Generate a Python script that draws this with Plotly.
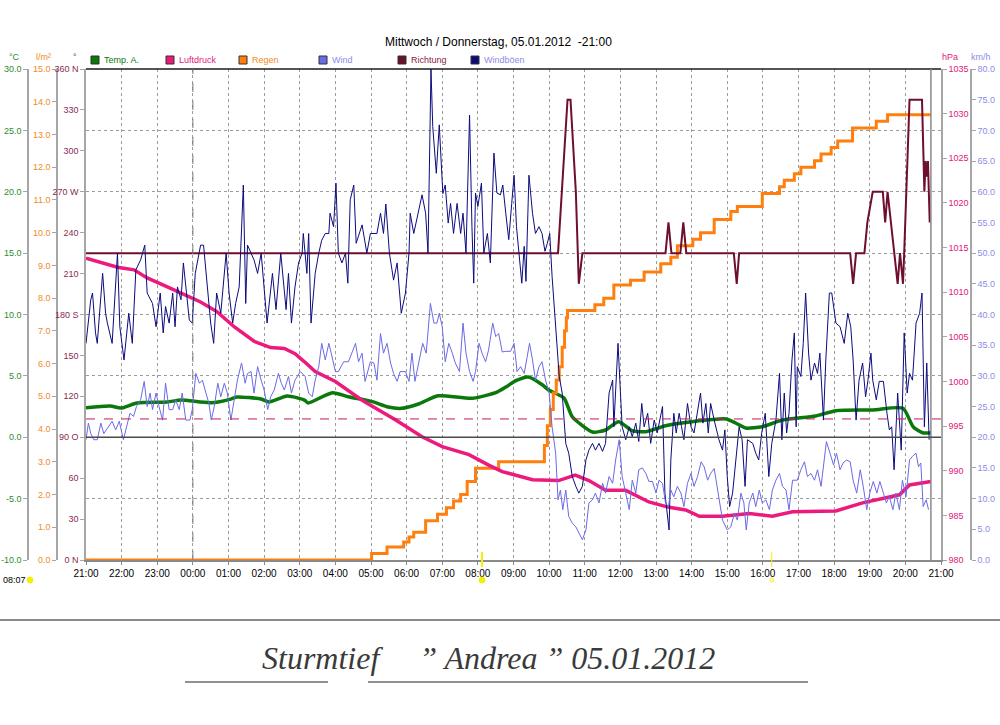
import plotly.graph_objects as go
import pandas as pd

# ---------------- data (time = minutes after 04.01.2012 21:00) ----------------
BASE = pd.Timestamp("2012-01-04 21:00")
END = BASE + pd.Timedelta(hours=24)

hour_labels = ["21:00", "22:00", "23:00", "00:00", "01:00", "02:00", "03:00", "04:00",
               "05:00", "06:00", "07:00", "08:00", "09:00", "10:00", "11:00", "12:00",
               "13:00", "14:00", "15:00", "16:00", "17:00", "18:00", "19:00", "20:00", "21:00"]

temp_min = [0, 41, 59, 86, 137, 160, 210, 244, 254, 295, 308, 339, 368, 374, 415, 442, 482, 509,
            532, 560, 593, 650, 690, 707, 724, 745, 769, 779, 805, 819, 853, 875, 897, 920, 943,
            976, 1021, 1078, 1094, 1111, 1139, 1173, 1229, 1263, 1325, 1376, 1393, 1409, 1423]
temp_val = [2.41, 2.54, 2.38, 2.79, 2.87, 3.03, 2.81, 3.11, 3.28, 3.11, 2.87, 3.36, 3.03, 2.79,
            3.63, 3.30, 2.90, 2.46, 2.36, 2.71, 3.38, 3.17, 3.63, 4.09, 4.61, 4.91, 4.26, 3.85,
            3.20, 1.67, 0.43, 0.59, 1.27, 0.53, 0.45, 0.94, 1.27, 1.49, 1.16, 0.75, 0.86, 1.40,
            1.73, 2.16, 2.22, 2.36, 0.86, 0.37, 0.37]

press_min = [0, 31, 53, 81, 103, 137, 165, 193, 221, 250, 283, 311, 334, 352, 368, 386, 420, 465,
             521, 566, 600, 645, 679, 701, 724, 752, 796, 824, 847, 875, 909, 948, 982, 1010, 1033,
             1072, 1117, 1156, 1190, 1263, 1308, 1342, 1370, 1387, 1403, 1423]
press_val = [1013.8, 1013.2, 1012.8, 1012.5, 1011.6, 1010.6, 1009.7, 1008.9, 1007.8, 1006.1,
             1004.5, 1003.8, 1003.7, 1003.1, 1002.2, 1001.1, 1000.0, 997.9, 995.7, 993.8, 992.7,
             991.8, 990.6, 989.9, 989.5, 989.0, 988.9, 989.5, 988.9, 987.8, 987.8, 986.5, 985.9,
             985.6, 984.9, 984.9, 985.2, 984.9, 985.4, 985.5, 986.4, 986.9, 987.3, 988.4, 988.6,
             988.8]
press_ref = 995.8

rain_min = [0, 481, 507, 535, 544, 552, 572, 592, 607, 619, 631, 642, 656, 695,
            767, 772, 777, 782, 787, 792, 797, 802, 806, 809, 811,
            857, 872, 889, 917, 940, 968, 985, 996, 1022, 1035, 1058, 1086, 1097, 1139, 1168,
            1176, 1193, 1204, 1227, 1238, 1255, 1266, 1291, 1331, 1350, 1423]
rain_val = [0.0, 0.2, 0.4, 0.55, 0.7, 0.85, 1.2, 1.4, 1.6, 1.8, 2.0, 2.4, 2.8, 3.0,
            3.0, 3.5, 4.1, 4.6, 5.1, 5.5, 5.9, 6.5, 7.0, 7.4, 7.62,
            7.8, 8.0, 8.4, 8.55, 8.8, 9.05, 9.25, 9.6, 9.8, 10.0, 10.4, 10.65, 10.8, 11.2, 11.4,
            11.6, 11.8, 12.0, 12.2, 12.4, 12.6, 12.8, 13.2, 13.4, 13.6, 13.6]

dir_min = [0, 795, 811, 816, 825, 830, 836, 976, 981, 986, 1001, 1006, 1011, 1091, 1096, 1100,
           1287, 1292, 1297, 1311, 1316, 1325, 1342, 1346, 1350, 1356, 1367, 1371, 1376, 1378,
           1387, 1408, 1412, 1414, 1416, 1418, 1421]
dir_val = [225, 225, 337.5, 337.5, 270, 202.5, 225, 225, 247.5, 225, 225, 247.5, 225, 225, 202.5,
           225, 225, 202.5, 225, 225, 247.5, 270, 270, 247.5, 270, 247.5, 202.5, 225, 202.5, 225,
           337.5, 337.5, 270, 292.5, 281, 292.5, 247.5]

gust_min = [0, 8, 11, 16, 19, 28, 33, 36, 44, 53, 57, 64, 72, 78, 84, 92, 99, 103, 112, 118, 125,
            130, 134, 140, 146, 150, 154, 160, 164, 174, 179, 184, 193, 198, 210, 215, 220, 227,
            236, 241, 247, 252, 258, 265, 269, 272, 283, 289, 295, 305, 314, 320, 328, 337, 341,
            346, 352, 358, 364, 366, 372, 375, 379, 386, 392, 397, 403, 409, 411, 417, 421, 425,
            431, 437, 441, 445, 451, 455, 465, 473, 479, 490, 496, 501, 505, 511, 518, 524, 531,
            538, 544, 546, 552, 560, 566, 572, 576, 581, 584, 590, 595, 601, 605, 610, 614, 619,
            625, 631, 635, 640, 646, 650, 653, 656, 660, 666, 670, 676, 681, 687, 692, 698, 702,
            707, 712, 717, 721, 725, 730, 734, 738, 741, 746, 752, 757, 763, 768, 773, 777, 781,
            785, 791, 797, 802, 808, 813, 819, 825, 830, 836, 842, 847, 853, 858, 864, 870, 875,
            881, 887, 889, 892, 896, 901, 903, 909, 915, 920, 926, 931, 936, 940, 946, 951, 957,
            962, 971, 975, 979, 982, 985, 990, 994, 999, 1003, 1007, 1013, 1019, 1024, 1030, 1035,
            1039, 1044, 1048, 1052, 1058, 1061, 1066, 1072, 1076, 1080, 1084, 1089, 1094, 1100,
            1105, 1110, 1114, 1123, 1128, 1133, 1138, 1144, 1150, 1155, 1162, 1168, 1172, 1176,
            1180, 1184, 1189, 1193, 1196, 1198, 1204, 1208, 1212, 1217, 1221, 1227, 1232, 1236,
            1242, 1246, 1252, 1256, 1263, 1270, 1277, 1283, 1288, 1292, 1297, 1302, 1308, 1313,
            1317, 1322, 1325, 1331, 1336, 1343, 1349, 1353, 1357, 1361, 1367, 1373, 1378, 1383,
            1387, 1392, 1398, 1404, 1408, 1412, 1416, 1420]
gust_val = [35.3, 42.4, 43.5, 37.0, 35.3, 46.7, 40.2, 38.6, 35.3, 50.0, 38.0, 32.6, 40.2, 35.3,
            47.3, 48.9, 51.3, 43.5, 41.8, 38.0, 43.5, 37.0, 41.3, 38.6, 43.5, 38.0, 44.5, 42.4,
            48.4, 39.1, 38.6, 46.7, 51.3, 51.3, 38.6, 35.3, 43.5, 40.2, 50.0, 43.5, 38.6, 41.8,
            44.5, 61.1, 41.8, 51.3, 48.9, 46.7, 50.0, 38.6, 46.7, 40.8, 50.0, 40.8, 46.7, 38.6,
            44.5, 48.4, 50.0, 53.2, 46.7, 53.2, 38.6, 46.7, 50.0, 52.1, 53.2, 53.2, 56.5, 54.3,
            61.4, 50.0, 48.4, 50.0, 45.1, 58.7, 61.1, 51.6, 54.6, 50.0, 53.2, 53.2, 56.5, 53.2,
            58.0, 50.0, 45.6, 48.4, 40.2, 43.5, 50.0, 56.5, 53.2, 56.5, 59.5, 56.5, 50.0, 80.0,
            70.6, 63.0, 70.9, 59.7, 61.1, 54.9, 58.1, 53.2, 58.1, 53.2, 56.5, 50.0, 72.5, 54.3,
            45.1, 59.8, 57.6, 61.4, 50.0, 53.2, 48.4, 66.3, 59.8, 59.5, 61.1,
            56.5, 52.2, 58.1, 62.7, 54.3, 48.9, 45.1, 51.1, 45.4, 62.7, 56.5, 53.2, 54.3, 53.2,
            50.3, 51.6, 53.2, 46.2, 38.0, 29.9, 27.2, 19.0, 17.4, 13.6, 12.0, 10.9, 12.0, 16.3,
            17.9, 19.0, 17.9, 19.0, 17.7, 19.0, 27.2, 29.3, 21.7, 27.2, 35.3, 25.5, 21.7, 19.6,
            21.7, 20.1, 22.3, 19.3, 25.5, 21.7, 23.9, 19.0, 22.8, 20.7, 25.0, 10.9, 7.6, 4.9,
            16.3, 23.9, 20.7, 23.9, 21.7, 19.6, 25.5, 21.7, 20.7, 23.9, 27.2, 22.3, 25.5, 20.7,
            25.5, 22.8, 21.7, 19.6, 17.9, 21.2, 13.6, 8.7, 10.9, 16.3, 21.7, 19.6, 12.0, 19.6,
            19.0, 17.4, 16.3, 20.7, 23.9, 13.6, 19.0, 22.8, 30.4, 19.6, 27.2, 20.7, 23.9, 32.6,
            37.0, 21.7, 31.5, 29.9, 35.3, 43.5, 33.7, 29.3, 32.1, 30.4, 33.7, 22.8, 32.6, 43.5,
            43.5, 38.6, 38.0, 35.3, 40.2, 38.0, 32.6, 22.8, 29.3, 32.1, 26.6, 29.3, 33.7, 29.3,
            26.1, 29.1, 29.1, 23.9, 21.2, 21.7, 14.7, 27.2, 17.9, 37.0, 27.2, 30.4, 29.3, 38.6,
            40.2, 43.5, 21.7, 32.1, 19.6]

wind_min = [0, 4, 8, 13, 19, 25, 30, 37, 44, 50, 56, 63, 69, 74, 80, 85, 92, 98, 103, 108, 112,
            118, 123, 129, 134, 140, 146, 151, 157, 162, 168, 175, 179, 185, 191, 196, 202, 207,
            211, 216, 222, 227, 233, 238, 244, 250, 255, 262, 268, 272, 278, 283, 289, 295, 300,
            306, 311, 317, 324, 329, 334, 341, 346, 352, 361, 369, 375, 381, 386, 392, 397, 403,
            409, 413, 420, 425, 434, 442, 448, 454, 459, 465, 470, 479, 485, 490, 496, 501, 507,
            513, 518, 524, 529, 538, 544, 549, 554, 560, 567, 573, 580, 586, 591, 595, 600, 605,
            611, 617, 622, 629, 635, 640, 646, 652, 656, 662, 667, 673, 678, 685, 690, 695, 701,
            707, 715, 721, 726, 732, 738, 743, 747, 752, 757, 763, 768, 774, 780, 785, 791, 795,
            799, 803, 808, 813, 819, 825, 830, 836, 842, 847, 853, 858, 864, 870, 875, 881, 887,
            892, 898, 903, 909, 915, 920, 926, 931, 937, 943, 948, 954, 960, 965, 971, 976, 981,
            985, 990, 996, 1002, 1007, 1013, 1019, 1024, 1030, 1036, 1041, 1047, 1052, 1058, 1061,
            1066, 1072, 1080, 1086, 1092, 1097, 1103, 1108, 1112, 1117, 1123, 1128, 1134, 1139,
            1145, 1151, 1156, 1162, 1168, 1173, 1179, 1184, 1190, 1198, 1204, 1210, 1215, 1221,
            1227, 1232, 1238, 1243, 1247, 1253, 1259, 1264, 1270, 1275, 1281, 1287, 1292, 1298,
            1304, 1309, 1315, 1320, 1326, 1332, 1337, 1343, 1348, 1353, 1359, 1364, 1370, 1375,
            1381, 1387, 1392, 1398, 1402, 1406, 1410, 1415, 1419]
wind_val = [19.6, 22.3, 20.6, 19.6, 19.6, 22.3, 20.6, 21.7, 22.6, 21.2, 22.6, 19.6, 21.7, 23.9,
            23.4, 25.0, 26.1, 29.1, 25.0, 27.2, 24.5, 27.2, 25.0, 22.8, 28.8, 24.5, 24.5, 26.1,
            24.5, 27.2, 22.8, 22.8, 24.5, 30.4, 28.8, 29.3, 27.2, 25.5, 22.8, 25.0, 28.8, 26.6,
            28.8, 27.2, 22.8, 26.1, 29.3, 32.1, 28.8, 30.4, 30.7, 27.2, 31.5, 29.3, 27.7, 24.5,
            26.6, 27.7, 30.4, 28.8, 27.7, 29.9, 27.2, 29.3, 30.7, 29.9, 27.2, 26.6, 29.3, 31.5,
            35.3, 32.6, 35.3, 33.7, 30.7, 30.7, 32.3, 32.3, 33.7, 35.3, 32.3, 33.7, 29.1, 32.3,
            32.1, 29.3, 36.9, 33.7, 35.3, 32.1, 30.4, 29.1, 30.7, 30.7, 29.1, 33.7, 29.1, 32.1,
            35.3, 33.7, 41.8, 38.6, 38.6, 40.2, 38.0, 32.3, 35.3, 33.7, 32.1, 30.7, 38.6, 33.7,
            30.7, 29.1, 30.7, 35.3, 33.7, 32.3, 34.2, 38.6, 36.4, 36.9, 33.9,
            34.0, 34.0, 35.3, 30.7, 31.5, 30.4, 33.1, 35.3, 32.6, 29.3, 31.5, 32.3, 29.3, 27.2,
            21.7, 17.4, 9.8, 11.4, 8.2, 11.4, 7.1, 6.0, 5.4, 4.4, 3.3, 4.9, 9.3, 9.8, 10.9, 9.3,
            12.5, 10.9, 13.6, 12.5, 16.3, 19.6, 13.6, 10.9, 8.2, 13.0, 10.9, 14.7, 15.0, 14.1,
            12.8, 12.8, 10.9, 13.0, 12.5, 9.3, 8.7, 11.4, 10.3, 12.0, 10.9, 8.7, 12.5, 14.1, 12.0,
            13.6, 16.0, 15.2, 13.0, 14.1, 14.9, 13.1, 9.8, 6.5, 4.9, 5.4, 7.6, 6.5, 10.9, 9.3,
            4.9, 9.3, 10.9, 8.7, 11.4, 9.3, 9.8, 8.2, 11.4, 13.0, 14.1, 12.0, 11.4, 8.2, 13.0,
            13.0, 14.7, 16.0, 13.6, 14.1, 13.0, 14.7, 12.0, 15.8, 19.3, 17.4, 15.5, 17.4, 14.7,
            15.8, 16.3, 16.0, 13.0, 10.9, 14.7, 12.0, 8.2, 10.9, 12.8, 10.9, 12.8, 10.9, 9.3,
            10.3, 8.2, 10.9, 8.2, 13.0, 10.3, 16.3, 16.9, 17.4, 15.2, 15.8, 8.7, 9.8, 8.2]

sun_times = [("08:07", 11 * 60 + 7), ("16:15", 19 * 60 + 15)]

dir_ticks = [0, 30, 60, 90, 120, 150, 180, 210, 240, 270, 300, 330, 360]
dir_text = ["0 N", "30", "60", "90 O", "120", "150", "180 S", "210", "240", "270 W", "300", "330", "360 N"]
temp_ticks = [-10, -5, 0, 5, 10, 15, 20, 25, 30]
rain_ticks = list(range(0, 16))
press_ticks = list(range(980, 1036, 5))
wind_ticks = list(range(0, 81, 5))

# ---------------- styling ----------------
FONT = "Liberation Sans, Arial, sans-serif"
C_TEMP, C_TEMP_T = "#0b780b", "#2e8b2e"
C_PRESS = "#ec1a7c"
C_RAIN = "#ff7f0e"
C_WIND = "#6a6ae6"
C_DIR = "#6e0f2e"
C_GUST = "#0b0b7e"
C_AXIS = "#a6a6a6"
TICK_SIZE = 9


def ts(mins):
    return [BASE + pd.Timedelta(minutes=m) for m in mins]


def PX(x):
    return x / 1000.0


def PY(y):
    return (560.0 - y) / 491.0


fig = go.Figure()
fig.add_trace(go.Scatter(x=ts(gust_min), y=gust_val, yaxis="y5", mode="lines",
                         line=dict(color=C_GUST, width=1), name="Windböen"))
fig.add_trace(go.Scatter(x=ts(wind_min), y=wind_val, yaxis="y5", mode="lines",
                         line=dict(color=C_WIND, width=1), name="Wind"))
fig.add_trace(go.Scatter(x=ts(dir_min), y=dir_val, yaxis="y3", mode="lines",
                         line=dict(color=C_DIR, width=2), name="Richtung"))
fig.add_trace(go.Scatter(x=ts(temp_min), y=temp_val, yaxis="y", mode="lines",
                         line=dict(color=C_TEMP, width=3.5, shape="spline", smoothing=0.6), name="Temp. A."))
fig.add_trace(go.Scatter(x=ts(press_min), y=press_val, yaxis="y4", mode="lines",
                         line=dict(color=C_PRESS, width=3.5), name="Luftdruck"))
fig.add_trace(go.Scatter(x=ts(rain_min), y=rain_val, yaxis="y2", mode="lines",
                         line=dict(color=C_RAIN, width=3, shape="hv"), name="Regen"))


def tf(c):
    return dict(family=FONT, size=TICK_SIZE, color=c)


common = dict(showline=True, linecolor=C_AXIS, linewidth=1.5, ticks="outside", ticklen=4,
              tickcolor=C_AXIS, zeroline=False, automargin=False, fixedrange=True)

fig.update_layout(
    width=1000, height=725,
    margin=dict(l=0, r=0, t=69, b=165),
    paper_bgcolor="white", plot_bgcolor="white",
    showlegend=False,
    font=dict(family=FONT, size=10, color="black"),
    xaxis=dict(domain=[0.086, 0.941], range=[BASE, END], type="date",
               tickvals=[BASE + pd.Timedelta(hours=i) for i in range(len(hour_labels))],
               ticktext=hour_labels, tickfont=dict(family=FONT, size=10, color="black"),
               showgrid=True, gridcolor="#9c9c9c", griddash="dot", gridwidth=1,
               showline=True, linecolor="#8a8a8a", linewidth=1.5, ticks="outside", ticklen=3,
               tickcolor="#8a8a8a", zeroline=False, automargin=False, fixedrange=True),
    yaxis=dict(range=[-10, 30], tickvals=temp_ticks, ticktext=[f"{v:.1f}" for v in temp_ticks],
               anchor="free", position=0.028, side="left", tickfont=tf(C_TEMP_T),
               showgrid=True, gridcolor="#9c9c9c", griddash="dot", gridwidth=1, **common),
    yaxis2=dict(range=[0, 15], tickvals=rain_ticks, ticktext=[f"{v:.1f}" for v in rain_ticks],
                overlaying="y", anchor="free", position=0.057, side="left",
                tickfont=tf("#f28a1e"), showgrid=False, **common),
    yaxis3=dict(range=[0, 360], tickvals=dir_ticks, ticktext=dir_text,
                overlaying="y", anchor="x", side="left",
                tickfont=tf("#8a2a52"), showgrid=False, **common),
    yaxis4=dict(range=[980, 1035], tickvals=press_ticks, ticktext=[str(v) for v in press_ticks],
                overlaying="y", anchor="x", side="right",
                tickfont=tf("#e0187a"), showgrid=False, **common),
    yaxis5=dict(range=[0, 80], tickvals=wind_ticks, ticktext=[f"{v:.1f}" for v in wind_ticks],
                overlaying="y", anchor="free", position=0.971, side="right",
                tickfont=tf("#8c8ce8"), showgrid=False, **common),
)

shapes = []
ann = []


def text(t, x, y, size, color, xa="center", family=FONT):
    ann.append(dict(text=t, x=PX(x), y=PY(y), xref="paper", yref="paper", showarrow=False,
                    xanchor=xa, yanchor="middle", font=dict(family=family, size=size, color=color)))


# plot frame details
shapes.append(dict(type="line", xref="x domain", yref="paper", x0=0, x1=1, y0=1, y1=1,
                   line=dict(color="#1a1a1a", width=1.5)))
shapes.append(dict(type="line", xref="x", yref="paper", x0=BASE + pd.Timedelta(hours=3),
                   x1=BASE + pd.Timedelta(hours=3), y0=0, y1=1,
                   line=dict(color="#7a7a7a", width=1, dash="dash")))
last_t = ts([max(temp_min)])[0]
shapes.append(dict(type="line", xref="x", yref="paper", x0=last_t, x1=last_t, y0=0, y1=1,
                   line=dict(color="#8a8a8a", width=1.5)))
shapes.append(dict(type="line", xref="x domain", yref="y", x0=0, x1=1, y0=0, y1=0,
                   line=dict(color="#4a4a4a", width=1.5)))
shapes.append(dict(type="line", xref="x domain", yref="y4", x0=0, x1=1, y0=press_ref, y1=press_ref,
                   line=dict(color="#c81468", width=1, dash="dash")))

# title and units
text("Mittwoch / Donnerstag, 05.01.2012  -21:00", 498, 42, 12, "black")
for txt, x, c in [("°C", 14, C_TEMP_T), ("l/m²", 43, "#f28a1e"), ("°", 75, "#8a2a52"),
                  ("hPa", 950, "#e0187a"), ("km/h", 981, "#8c8ce8")]:
    text(txt, x, 57, 9, c)

# legend (manual, square markers)
legend_items = [("Temp. A.", C_TEMP, "#0b780b", 95), ("Luftdruck", C_PRESS, "#e0187a", 170),
                ("Regen", C_RAIN, "#f28a1e", 243), ("Wind", C_WIND, "#8c8ce8", 323),
                ("Richtung", C_DIR, "#8a1a40", 402), ("Windböen", C_GUST, "#8c8ce8", 475)]
for name, sq, tc, x in legend_items:
    shapes.append(dict(type="rect", xref="paper", yref="paper", x0=PX(x - 4), x1=PX(x + 4),
                       y0=PY(64), y1=PY(56), fillcolor=sq, line=dict(color="#333333", width=1)))
    text(name, x + 7, 60, 9, tc, xa="left")

# sunrise / sunset markers
for i, (lab, m) in enumerate(sun_times):
    t = BASE + pd.Timedelta(minutes=m)
    shapes.append(dict(type="line", xref="x", yref="paper", x0=t, x1=t, y0=PY(552), y1=PY(567),
                       line=dict(color="#f4f000", width=2 if i == 0 else 1)))
    d = pd.Timedelta(minutes=5 if i == 0 else 3)
    shapes.append(dict(type="circle", xref="x", yref="paper", x0=t - d, x1=t + d,
                       y0=PY(583 if i == 0 else 582), y1=PY(577 if i == 0 else 578),
                       fillcolor="#f4f000" if i == 0 else "rgba(0,0,0,0)",
                       line=dict(color="#f4f000", width=1)))
text(sun_times[0][0], 14, 580, 9, "black")
shapes.append(dict(type="circle", xref="paper", yref="paper", x0=PX(27), x1=PX(33),
                   y0=PY(583), y1=PY(577), fillcolor="#f4f000", line=dict(color="#f4f000", width=1)))

# bottom separator and caption
shapes.append(dict(type="line", xref="paper", yref="paper", x0=0, x1=1, y0=PY(620), y1=PY(620),
                   line=dict(color="#8a8a8a", width=2)))
shapes.append(dict(type="line", xref="paper", yref="paper", x0=PX(185), x1=PX(328), y0=PY(682),
                   y1=PY(682), line=dict(color="#222222", width=1)))
shapes.append(dict(type="line", xref="paper", yref="paper", x0=PX(368), x1=PX(808), y0=PY(682),
                   y1=PY(682), line=dict(color="#222222", width=1)))
text("<i>Sturmtief\u00a0\u00a0\u00a0\u00a0\u00a0\u201d Andrea \u201d 05.01.2012</i>", 488, 658, 32,
     "#3a3a3a", family="Liberation Serif, DejaVu Serif, serif")

fig.update_layout(shapes=shapes, annotations=ann)
fig.write_html("out.html", config={"displayModeBar": False},
               post_script="document.body.style.margin='0px';")
